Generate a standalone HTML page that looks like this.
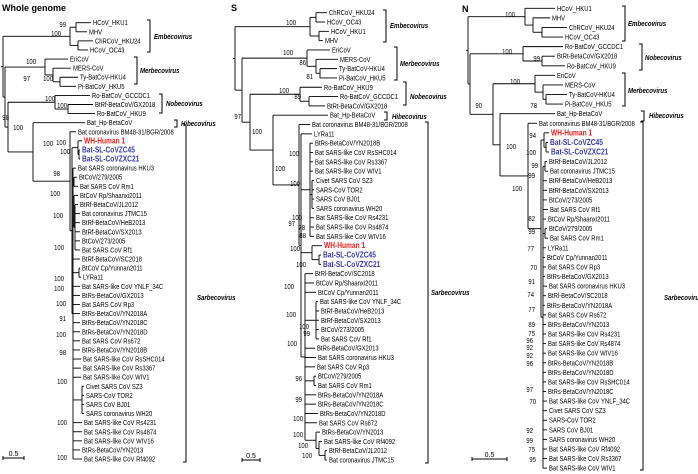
<!DOCTYPE html>
<html><head><meta charset="utf-8"><style>
html,body{margin:0;padding:0;background:#fff;}
svg{display:block;font-family:"Liberation Sans",Arial,sans-serif;}
</style></head><body>
<svg id="fig" width="698" height="474" viewBox="0 0 698 474" xmlns="http://www.w3.org/2000/svg">
<text x="2" y="11" font-size="9" font-weight="bold">Whole genome</text>
<text x="231" y="11" font-size="9" font-weight="bold">S</text>
<text x="462" y="12" font-size="9" font-weight="bold">N</text>
<g id="trees"></g>
</svg>
<script>
function L(n,x,c){return {n:n,x:x,c:c||''};}
function N(x,k){return {x:x,k:k};}
const R='red',B='blue';

// Panel 1: whole genome
const tree1 = N(3,[
 N(70,[N(76,[L('HCoV_HKU1',91),L('MHV',87)]),N(78,[L('ChRCoV_HKU24',93),L('HCoV_OC43',88)])]),
 N(5,[
  N(45,[L('EriCoV',68),N(53,[L('MERS-CoV',71),N(60,[L('Ty-BatCoV-HKU4',78),L('Pi-BatCoV_HKU5',76)])])]),
  N(8,[
   N(55,[L('Ro-BatCoV_GCCDC1',90),N(68,[L('BtRf-BetaCoV/GX2018',93),L('Ro-BatCoV_HKU9',95)])]),
   N(33,[L('Bat_Hp-BetaCoV',85),
    N(70,[L('Bat coronavirus BM48-31/BGR/2008',76),
     N(72,[N(78,[L('WH-Human 1',82,R),N(79,[L('Bat-SL-CoVZC45',80,B),L('Bat-SL-CoVZXC21',80,B)])]),
      N(73,[L('Bat SARS coronavirus HKU3',76),N(74,[L('BtCoV/279/2005',77),L('Bat SARS CoV Rm1',78)]),
       N(74,[L('BtCoV Rp/Shaanxi2011',78),N(75,[L('BtRf-BetaCoV/JL2012',78),L('Bat coronavirus JTMC15',80),L('BtRf-BetaCoV/HeB2013',80),L('BtRf-BetaCoV/SX2013',80),L('BtCoV/273/2005',80),L('Bat SARS CoV Rf1',80)])]),
       L('BtRf-BetaCoV/SC2018',80),N(79,[L('BtCoV Cp/Yunnan2011',80),L('LYRa11',81)]),
       L('Bat SARS-like CoV YNLF_34C',80),L('BtRs-BetaCoV/GX2013',80),L('Bat SARS CoV Rp3',80),
       L('BtRs-BetaCoV/YN2018A',80),L('BtRs-BetaCoV/YN2018C',80),L('BtRs-BetaCoV/YN2018D',80),L('Bat SARS CoV Rs672',80),
       L('BtRs-BetaCoV/YN2018B',80),L('Bat SARS-like CoV RsSHC014',81),L('Bat SARS-like CoV Rs3367',81),L('Bat SARS-like CoV WIV1',81),
       N(82,[L('Civet SARS CoV SZ3',84),L('SARS-CoV TOR2',84),L('SARS CoV BJ01',84),L('SARS coronavirus WH20',84)]),
       L('Bat SARS-like CoV Rs4231',82),L('Bat SARS-like CoV Rs4874',82),L('Bat SARS-like CoV WIV16',82),
       L('BtRs-BetaCoV/YN2013',80),L('Bat SARS-like CoV Rf4092',82)])])])])])])]);

// Panel 2: S
const tree2 = N(235,[
 N(310,[N(316,[L('ChRCoV_HKU24',327),L('HCoV_OC43',325)]),N(319,[L('HCoV_HKU1',329),L('MHV',323)])]),
 N(242,[
  N(307,[L('EriCoV',330),N(316,[L('MERS-CoV',338),N(320,[L('Ty-BatCoV-HKU4',337),L('Pi-BatCoV_HKU5',337)])])]),
  N(250,[
   N(300,[L('Ro-BatCoV_HKU9',322),N(309,[L('Ro-BatCoV_GCCDC1',338),L('BtRt-BetaCoV/GX2018',325)])]),
   N(273,[L('Bat_Hp-BetaCoV',328),
    N(299,[L('Bat coronavirus BM48-31/BGR/2008',310),
     N(301,[L('LYRa11',312),
      N(310,[L('BtRs-BetaCoV/YN2018B',313),L('Bat SARS-like CoV RsSHC014',313),L('Bat SARS-like CoV Rs3367',313),L('Bat SARS-like CoV WIV1',313),
       N(312,[L('Civet SARS CoV SZ3',314),L('SARS-CoV TOR2',314),L('SARS CoV BJ01',314),L('SARS coronavirus WH20',314)]),
       L('Bat SARS-like CoV Rs4231',314),L('Bat SARS-like CoV Rs4874',314),L('Bat SARS-like CoV WIV16',314)]),
      N(312,[L('WH-Human 1',322,R),N(319,[L('Bat-SL-CoVZC45',321,B),L('Bat-SL-CoVZXC21',321,B)])]),
      N(305,[L('BtRl-BetaCoV/SC2018',313),L('BtCoV Rp/Shaanxi2011',314),L('BtCoV Cp/Yunnan2011',316),
       N(316,[L('Bat SARS-like CoV YNLF_34C',318),L('BtRf-BetaCoV/HeB2013',319),L('BtRf-BetaCoV/SX2013',319),L('BtCoV/273/2005',319),L('Bat SARS CoV Rf1',319)]),
       L('BtRs-BetaCoV/GX2013',315),L('Bat SARS coronavirus HKU3',316),L('Bat SARS CoV Rp3',315),
       N(314,[L('BtCoV/279/2005',316),L('Bat SARS CoV Rm1',316)]),
       L('BtRs-BetaCoV/YN2018A',316),L('BtRs-BetaCoV/YN2018C',316),L('BtRs-BetaCoV/YN2018D',318),L('Bat SARS CoV Rs672',317),
       N(316,[L('BtRs-BetaCoV/YN2013',320),N(319,[L('Bat SARS-like CoV Rf4092',322),N(325,[L('BtRf-BetaCoV/JL2012',327),L('Bat coronavirus JTMC15',327)])])])])])])])])])]);

// Panel 3: N
const tree3 = N(468,[
 N(525,[L('HCoV_HKU1',555),N(533,[L('MHV',550),N(542,[L('ChRCoV_HKU24',567),L('HCoV_OC43',563)])])]),
 N(470,[
  N(523,[L('Ro-BatCoV_GCCDC1',563),N(542,[L('BtRt-BetaCoV/GX2018',555),L('Ro-BatCoV_HKU9',565)])]),
  N(493,[
   N(535,[L('EriCoV',555),N(543,[L('MERS-CoV',563),N(546,[L('Ty-BatCoV-HKU4',567),L('Pi-BatCoV_HKU5',563)])])]),
   N(500,[L('Bat_Hp-BetaCoV',555),
    N(528,[L('Bat coronavirus BM48-31/BGR/2008',537),
     N(541,[N(544,[L('WH-Human 1',549,R),N(546,[L('Bat-SL-CoVZC45',548,B),L('Bat-SL-CoVZXC21',549,B)])]),
      N(543,[N(545,[L('BtRf-BetaCoV/JL2012',547),L('Bat coronavirus JTMC15',548)]),
       L('BtRf-BetaCoV/HeB2013',547),L('BtRf-BetaCoV/SX2013',547),L('BtCoV/273/2005',547),L('Bat SARS CoV Rf1',548),
       L('BtCoV Rp/Shaanxi2011',546),N(545,[L('BtCoV/279/2005',547),L('Bat SARS CoV Rm1',548)]),
       L('LYRa11',546),L('BtCoV Cp/Yunnan2011',545),L('Bat SARS CoV Rp3',546),L('BtRs-BetaCoV/GX2013',545),
       L('Bat SARS coronavirus HKU3',547),L('BtRl-BetaCoV/SC2018',546),L('BtRs-BetaCoV/YN2018A',545),L('Bat SARS CoV Rs672',546),
       L('BtRs-BetaCoV/YN2013',546),L('Bat SARS-like CoV Rs4231',546),L('Bat SARS-like CoV Rs4874',546),L('Bat SARS-like CoV WIV16',546),
       L('BtRs-BetaCoV/YN2018B',546),L('BtRs-BetaCoV/YN2018D',546),L('Bat SARS-like CoV RsSHC014',546),L('BtRs-BetaCoV/YN2018C',546),
       L('Bat SARS-like CoV YNLF_34C',547),L('Civet SARS CoV SZ3',547),L('SARS-CoV TOR2',547),L('SARS CoV BJ01',547),
       L('SARS coronavirus WH20',547),L('Bat SARS-like CoV Rf4092',547),L('Bat SARS-like CoV Rs3367',547),L('Bat SARS-like CoV WIV1',547)])])])])])])]);

const leafY1=[22.7,9.09], leafY2=[12.7,9.32], leafY3=[8.3,9.58];

const boot1=[[66,27,'99'],[61,36,'100'],[36,64,'100'],[30,81,'97'],[53,81,'100'],[55,101,'100'],[67,108,'100'],[9,120,'98'],[23,130,'100'],[53,146,'100'],[66,145,'100'],[70,154,'100'],[60,176,'98'],[60,196,'100'],[63,218,'100'],[64,250,'100'],[64,281,'100'],[64,291,'100'],[66,306,'100'],[66,321,'91'],[66,337,'100'],[66,355,'98'],[67,384,'100'],[67,425,'100'],[67,460,'100']];
const boot2=[[296,25,'100'],[293,55,'100'],[306,65,'86'],[313,79,'81'],[289,93,'100'],[301,99,'89'],[241,119,'97'],[262,134,'100'],[285,171,'100'],[299,156,'100'],[300,186,'100'],[302,220,'100'],[295,226,'97'],[305,230,'78'],[306,238,'88'],[300,251,'100'],[306,267,'100'],[294,289,'100'],[296,317,'100'],[309,329,'100'],[310,336,'99'],[297,346,'100'],[302,381,'96'],[302,402,'99'],[303,421,'100'],[303,437,'100'],[308,448,'100'],[312,458,'100']];
const boot3=[[515,17,'100'],[512,54,'100'],[540,61,'99'],[520,84,'100'],[537,108,'78'],[482,108,'90'],[516,149,'100'],[536,138,'94'],[536,155,'100'],[538,168,'99'],[535,178,'99'],[522,191,'100'],[535,221,'82'],[535,234,'99'],[534,251,'77'],[537,270,'70'],[535,284,'91'],[534,297,'74'],[535,312,'77'],[535,327,'89'],[535,336,'75'],[533,343,'96'],[533,350,'92'],[533,358,'92'],[533,366,'96'],[533,392,'97'],[536,404,'70'],[533,433,'92'],[533,443,'99'],[535,452,'75'],[536,462,'95']];

const br1=[[150,20,52,'Embecovirus',154,39],[137,57,84,'Merbecovirus',140,73],[162,94,113,'Nobecovirus',166,106],[177,120,127,'Hibecovirus',181,126],[186,125,462,'Sarbecovirus',197,300]];
const br2=[[386,10,42,'Embecovirus',390,28],[397,47,80,'Merbecovirus',400,66],[406,82,105,'Nobecovirus',410,99],[387,112,120,'Hibecovirus',392,119],[428,122,463,'Sarbecovirus',431,295]];
const br3=[[625,6,41,'Embecovirus',628,26],[642,44,70,'Nobecovirus',645,60],[625,73,106,'Merbecovirus',628,93],[644,111,121,'Hibecovirus',649,118],[643,122,470,'Sarbecovirus',664,300]];
const scale1=[3,24,458,'0.5'], scale2=[242,260,460,'0.5'], scale3=[472,507,459,'0.5'];

const NS='http://www.w3.org/2000/svg';
const root=document.getElementById('trees');
function mk(tag,attrs,parent){const e=document.createElementNS(NS,tag);for(const k in attrs)e.setAttribute(k,attrs[k]);(parent||root).appendChild(e);return e;}
function line(g,x1,y1,x2,y2,w){return mk('line',{x1:x1,y1:y1,x2:x2,y2:y2,stroke:'#000','stroke-width':w||0.9},g);}
function ntext(g,x,y,sx,attrs){attrs.transform=`translate(${x},${y}) scale(${sx},1)`;attrs.x=0;attrs.y=0;return mk('text',attrs,g);}

function layout(node,state){
  if(node.n!==undefined){node.y=state.y0+state.i*state.dy;state.i++;return;}
  node.k.forEach(c=>layout(c,state));
  node.y=(node.k[0].y+node.k[node.k.length-1].y)/2;
}
function draw(node,g){
  if(node.n!==undefined){
    const t=ntext(g,node.x+2,node.y+2.5,node.c?0.85:0.82,{'font-size':node.c?7.8:7.2,fill:node.c==='red'?'#e3201b':node.c==='blue'?'#3b3ba6':'#000','font-weight':node.c?'bold':'normal'});
    t.textContent=node.n;
    
    
    return;
  }
  const v=line(g,node.x,node.k[0].y,node.x,node.k[node.k.length-1].y);
  
  
  node.k.forEach(c=>{
    const h=line(g,node.x,c.y,c.x,c.y);
    
    
    draw(c,g);
  });
}
function panel(tree,ly,boot,br,sc,name){
  const g=mk('g',{});
  
  
  layout(tree,{y0:ly[0],dy:ly[1],i:0});
  line(g,tree.x-2,tree.y,tree.x,tree.y);
  draw(tree,g);
  boot.forEach(b=>{
    const t=ntext(g,b[0],b[1],0.85,{'font-size':7,fill:'#000','text-anchor':'end'});
    t.textContent=b[2];
    
    
  });
  br.forEach(b=>{
    const p=mk('path',{d:`M${b[0]-3},${b[1]}H${b[0]}V${b[2]}H${b[0]-3}`,fill:'none',stroke:'#000','stroke-width':1},g);
    
    
    const t=ntext(g,b[4],b[5],0.8,{'font-size':7.6,'font-weight':'bold','font-style':'italic'});
    t.textContent=b[3];
    
    
  });
  const s=mk('g',{},g);
  
  
  line(s,sc[0],sc[2],sc[1],sc[2],1);
  line(s,sc[0],sc[2]-2,sc[0],sc[2]+2,1);
  line(s,sc[1],sc[2]-2,sc[1],sc[2]+2,1);
  const st=mk('text',{x:(sc[0]+sc[1])/2,y:sc[2]-2,'font-size':7,'text-anchor':'middle'},s);
  st.textContent=sc[3];
}
panel(tree1,leafY1,boot1,br1,scale1,'whole-genome-tree');
panel(tree2,leafY2,boot2,br2,scale2,'s-gene-tree');
panel(tree3,leafY3,boot3,br3,scale3,'n-gene-tree');
</script>
</body></html>
